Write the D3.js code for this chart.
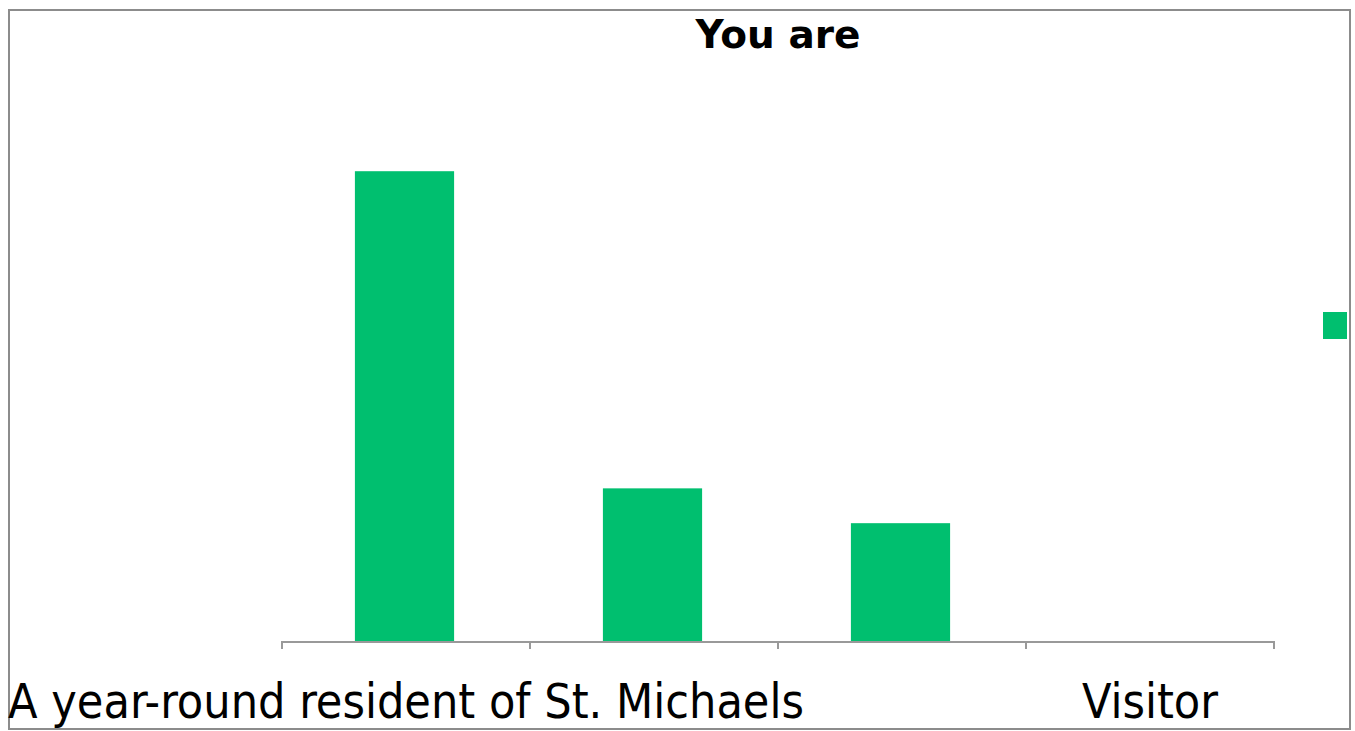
<!DOCTYPE html>
<html><head><meta charset="utf-8">
<script src="https://cdn.jsdelivr.net/npm/d3@7"></script>
<style>body{margin:0;background:#fff}svg{display:block}</style>
</head><body><svg id="c" width="1355" height="731"></svg>
<script>
const title = "You are";
const categories = ["A year-round resident of St. Michaels", "A seasonal resident", "A resident of Talbot County", "Visitor"];
const tickLabels = ["A year-round resident of St. Michaels", "", "", "Visitor"];
const values = [63.4, 20.6, 15.9, 0];
const color = "#00BF6F";

const svg = d3.select("#c");
svg.append("rect").attr("x",9).attr("y",10).attr("width",1341).attr("height",719)
  .attr("fill","#fff").attr("stroke","#8c8c8c").attr("stroke-width",2);

const x = d3.scaleBand().domain(categories).range([282,1274]).paddingInner(0.6).paddingOuter(0.3);
const xEdge = d3.scaleLinear().domain([0,categories.length]).range([282,1274]);
const y = d3.scaleLinear().domain([0,70]).range([641,641-70*7.41]);

svg.append("text").attr("x",778).attr("y",48).attr("text-anchor","middle")
  .attr("font-family","DejaVu Sans").attr("font-weight","bold")
  .attr("font-size",39).text(title);

svg.selectAll("rect.bar").data(values).join("rect").attr("class","bar")
  .attr("x",(d,i)=>x(categories[i])-1.5).attr("width",x.bandwidth())
  .attr("y",d=>y(d)).attr("height",d=>y(0)-y(d)).attr("fill",color);

// axis
const g = svg.append("g").attr("stroke","#999").attr("stroke-width",2);
g.append("line").attr("x1",xEdge(0)).attr("x2",xEdge(categories.length)).attr("y1",y(0)+1).attr("y2",y(0)+1);
d3.range(categories.length+1).forEach(i=>{
  g.append("line").attr("x1",xEdge(i)).attr("x2",xEdge(i)).attr("y1",y(0)).attr("y2",y(0)+8);
});
svg.selectAll("text.lbl").data(tickLabels).join("text").attr("class","lbl")
  .attr("x",(d,i)=>x(categories[i])+x.bandwidth()/2).attr("y",718)
  .attr("text-anchor","middle").attr("font-family","DejaVu Sans Condensed, DejaVu Sans")
  .attr("font-size",48).attr("fill","#000").text(d=>d);

// legend
svg.append("rect").attr("x",1323).attr("y",312).attr("width",24).attr("height",27).attr("fill",color);
</script></body></html>
